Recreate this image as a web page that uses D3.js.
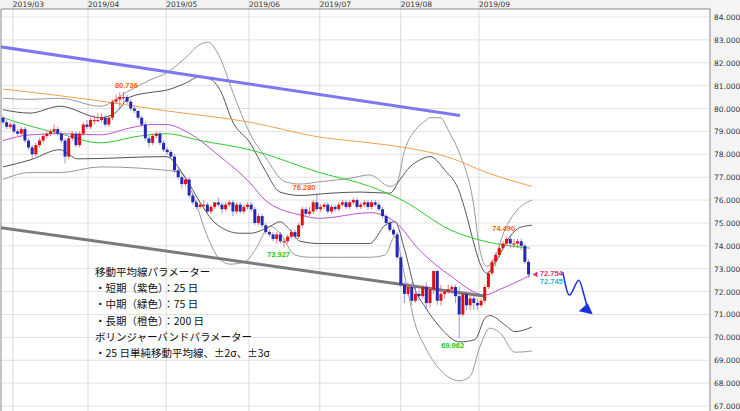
<!DOCTYPE html>
<html><head><meta charset="utf-8">
<script src="https://cdn.jsdelivr.net/npm/d3@7"></script>
<style>body{margin:0;background:#fff}svg{display:block;font-family:"DejaVu Sans",sans-serif}</style>
</head><body><svg id="c" width="740" height="411"></svg>
<script>
const monthLabels=["2019/03","2019/04","2019/05","2019/06","2019/07","2019/08","2019/09"];
const monthIdx=[2.7,23.3,44.7,67.4,86.8,109,130.4];
const priceTicks=[67,68,69,70,71,72,73,74,75,76,77,78,79,80,81,82,83,84];
const opens=[79.6,79.4,79.2,79.3,79.0,78.9,79.1,78.6,78.3,78.0,78.4,78.6,78.8,78.9,79.0,79.1,78.9,78.6,77.9,78.7,78.9,78.4,78.9,79.3,79.2,79.5,79.5,79.5,79.6,79.3,79.6,80.3,80.4,80.5,80.5,80.3,80.0,79.9,79.6,79.3,78.7,78.5,78.8,78.9,78.5,78.2,78.1,77.9,77.3,77.0,76.7,76.9,76.2,75.9,75.7,75.8,75.8,75.5,75.7,75.9,75.8,75.6,75.8,75.9,75.5,75.8,75.5,75.7,75.8,75.6,75.0,75.3,74.9,74.6,74.5,74.3,74.5,74.2,74.2,74.4,74.6,74.4,74.9,75.6,75.4,75.5,75.9,75.6,75.7,75.8,75.5,75.7,75.6,75.8,75.9,75.7,75.9,76.0,75.7,75.8,75.9,75.7,75.9,75.8,75.6,75.3,75.0,74.7,74.5,73.5,72.3,71.9,72.2,71.6,71.9,71.8,72.2,71.5,72.1,72.9,71.6,71.9,72.0,72.1,72.2,71.8,71.0,71.9,71.4,71.7,71.5,71.4,71.6,72.2,72.8,73.3,73.6,73.9,74.1,74.3,74.1,74.1,74.2,74.0,73.3];
const closes=[79.4,79.2,79.3,79.0,78.9,79.1,78.6,78.3,78.0,78.4,78.6,78.8,78.9,79.0,79.1,78.9,78.6,77.9,78.7,78.9,78.4,78.9,79.3,79.2,79.5,79.5,79.5,79.6,79.3,79.6,80.3,80.4,80.5,80.5,80.3,80.0,79.9,79.6,79.3,78.7,78.5,78.8,78.9,78.5,78.2,78.1,77.9,77.3,77.0,76.7,76.9,76.2,75.9,75.7,75.8,75.8,75.5,75.7,75.9,75.8,75.6,75.8,75.9,75.5,75.8,75.5,75.7,75.8,75.6,75.0,75.3,74.9,74.6,74.5,74.3,74.5,74.2,74.2,74.4,74.6,74.4,74.9,75.6,75.4,75.5,75.9,75.6,75.7,75.8,75.5,75.7,75.6,75.8,75.9,75.7,75.9,76.0,75.7,75.8,75.9,75.7,75.9,75.8,75.6,75.3,75.0,74.7,74.5,73.5,72.3,71.9,72.2,71.6,71.9,71.8,72.2,71.5,72.1,72.9,71.6,71.9,72.0,72.1,72.2,71.8,71.0,71.9,71.4,71.7,71.5,71.4,71.6,72.2,72.8,73.3,73.6,73.9,74.1,74.3,74.1,74.1,74.2,74.0,73.3,72.75];
const highs=[79.7,79.5,79.4,79.4,79.1,79.2,79.2,78.7,78.4,78.5,78.7,78.9,79.0,79.1,79.3,79.2,79.0,78.7,78.8,79.0,79.0,79.0,79.4,79.5,79.6,79.7,79.8,79.8,79.7,79.7,80.4,80.6,80.7,80.74,80.6,80.4,80.1,79.9,79.7,79.4,78.8,78.9,79.0,79.0,78.6,78.3,78.2,78.0,77.4,77.1,77.0,77.0,76.3,76.0,75.9,76.0,75.9,75.8,75.9,76.1,75.9,75.9,76.0,76.0,75.9,75.9,75.8,75.9,75.9,75.7,75.4,75.4,75.0,74.7,74.6,74.6,74.6,74.3,74.5,74.7,74.7,75.0,75.7,75.7,75.7,76.0,76.28,75.8,75.9,75.9,75.8,75.8,75.9,76.0,76.0,76.0,76.1,76.1,75.9,76.0,76.0,76.0,76.0,75.9,75.7,75.4,75.1,74.8,74.6,73.6,72.4,72.4,72.4,72.2,72.1,72.3,72.4,72.2,72.9,72.95,72.3,72.1,72.3,72.3,72.3,72.2,71.9,72.0,72.0,71.8,71.7,71.7,72.3,72.9,73.4,73.7,74.0,74.2,74.4,74.49,74.3,74.3,74.3,74.1,73.4];
const lows=[79.3,79.1,79.1,78.9,78.8,78.8,78.5,78.2,77.8,77.9,78.3,78.5,78.7,78.8,78.9,78.8,78.5,77.6,77.8,78.6,78.3,78.3,78.8,79.1,79.1,79.3,79.4,79.4,79.2,79.2,79.5,80.2,80.0,80.3,80.2,79.9,79.8,79.5,79.2,78.6,78.3,78.4,78.7,78.4,78.1,78.0,77.8,77.2,76.9,76.5,76.6,76.1,75.8,75.6,75.6,75.6,75.4,75.4,75.6,75.7,75.4,75.5,75.7,75.3,75.4,75.4,75.4,75.6,75.5,74.9,74.9,74.8,74.5,74.4,74.2,74.1,74.1,73.93,74.1,74.3,74.3,74.3,74.8,75.3,75.3,75.4,75.5,75.5,75.6,75.4,75.4,75.5,75.5,75.7,75.6,75.6,75.8,75.6,75.6,75.7,75.6,75.6,75.7,75.5,75.2,74.9,74.6,74.4,73.4,72.2,71.5,71.8,71.4,71.5,71.6,71.7,71.2,71.3,71.9,71.4,71.4,71.7,71.9,71.9,71.5,69.96,70.9,71.2,71.2,71.2,71.2,71.3,71.5,72.1,72.7,73.1,73.5,73.8,74.0,73.9,73.9,73.9,73.8,73.2,72.6];
const ma200=[[0,80.85],[23.5,80.4],[44.7,79.9],[67.7,79.4],[86.8,78.75],[100.5,78.5],[109.9,78.3],[122.5,77.85],[132.6,77.2],[144.9,76.6]];
const ma75=[[0,79.6],[8.2,79.2],[15.6,78.9],[26.6,78.5],[37.5,78.8],[44.7,78.9],[54,78.6],[67.7,78.2],[86.8,77.2],[100.5,76.6],[109.9,75.95],[122.5,74.7],[130.7,74.25],[144.4,73.9]];
const ma25=[[0,78.6],[7.4,78.85],[15.6,78.9],[26.6,78.85],[34.8,79.15],[40.3,79.3],[44.7,79.3],[51.2,78.9],[59.5,77.9],[67.7,76.75],[71.8,76.0],[81.4,75.35],[86.8,75.2],[100.5,75.45],[107.4,75.05],[114.2,73.8],[122.5,72.7],[132.1,71.85],[136.2,72.1],[144.4,72.7]];
const bbUp2=[[0,79.95],[7.4,79.8],[15.6,80.1],[26.6,79.6],[30.7,79.8],[34.8,80.5],[40.3,80.7],[44.7,80.8],[49.9,81.1],[54,81.4],[56.7,81.3],[59.5,80.8],[63,79.4],[67.7,78.5],[71.8,77.3],[75.9,76.35],[81.4,76.2],[89.6,76.3],[97.8,76.35],[106,76.3],[108.8,76.9],[111.5,77.45],[114.2,77.75],[117,77.9],[121.1,77.3],[125.2,76.3],[126,75.9],[132.6,72.8],[134.8,73.25],[138.9,74.4],[141.6,74.8],[144.9,74.9]];
const bbLo2=[[0,77.45],[7.4,77.75],[15.6,78.2],[20.5,77.8],[44.7,77.9],[49.9,77.0],[54,75.9],[58.1,75.0],[64.9,74.55],[67.7,74.55],[73.2,74.85],[75.9,75.05],[78.6,74.7],[81.4,74.2],[86.8,74.1],[100.5,74.1],[104.7,74.9],[107.4,75.05],[110.1,73.8],[112.9,72.1],[115.6,71.35],[119.7,70.45],[125.2,69.8],[129.3,69.9],[132.1,70.85],[133.4,70.95],[137.5,70.55],[140.3,70.25],[144.9,70.45]];
const bbUp3=[[0,80.45],[7.4,80.4],[15.6,80.45],[26.6,80.1],[34.8,80.8],[40.3,81.25],[44.7,81.55],[49.9,82.2],[54,82.8],[56.2,82.9],[59.5,82.2],[63,80.7],[67.7,78.9],[71.8,77.9],[77.3,76.8],[81.4,76.7],[86.8,76.8],[95,76.95],[100.5,77.1],[106,76.6],[107.9,76.75],[110.1,78.2],[112.9,79.05],[115.6,79.45],[117,79.6],[119.7,79.6],[122.5,78.9],[125.2,78.0],[128.8,75.95],[130.7,73.8],[132.6,73.1],[134.8,73.5],[137.5,74.7],[140.3,75.45],[144.9,76.0]];
const bbLo3=[[0,76.9],[7.4,77.2],[15.6,77.2],[26.6,77.45],[44.7,77.3],[48.5,77.2],[52.6,76.0],[55.3,74.7],[59.5,73.4],[62.2,73.2],[66.3,73.3],[69,73.8],[73.2,74.85],[75.9,74.55],[80,73.6],[84.1,73.5],[92.3,73.5],[100.5,73.5],[104.7,73.6],[107.4,74.4],[110.1,72.65],[112.9,70.6],[115.6,69.6],[119.7,68.6],[125.2,68.1],[128,68.3],[130.7,69.6],[133.4,70.4],[136.2,70.2],[140.3,69.35],[144.9,69.4]];
const trendBlue=[[-0.8,82.7],[125.2,79.7]];
const trendGray=[[-0.8,74.8],[132.1,71.8]];
const forecast=[[153.4,72.85],[155.2,71.85],[157.8,72.5],[159.2,71.85],[160.5,71.05]];
const annotations=[{i:33.8,p:80.736,t:"80.736",c:"#ff6600"},{i:82.5,p:76.28,t:"76.280",c:"#ff6600"},{i:75.5,p:73.927,t:"73.927",c:"#11cc11"},{i:137.2,p:74.49,t:"74.490",c:"#ff6600"},{i:123.2,p:69.962,t:"69.962",c:"#11cc11"}];
const notes=["移動平均線パラメーター","・短期（紫色）：25 日","・中期（緑色）：75 日","・長期（橙色）：200 日","ボリンジャーバンドパラメーター","・25 日単純移動平均線、±2σ、±3σ"];

const svg=d3.select("#c");
const x=d3.scaleLinear().domain([0,194]).range([3,711]);
const y=d3.scaleLinear().domain([67,84]).range([406,17]);
const L=1,R=710,T=9,B=411;
svg.append("rect").attr("x",0).attr("y",0).attr("width",740).attr("height",T).attr("fill","#f2f2f2");
svg.append("rect").attr("x",R).attr("y",0).attr("width",30).attr("height",411).attr("fill","#f4f4f4");
const g=svg.append("g");
g.selectAll(".hg").data(priceTicks).join("line").attr("x1",L).attr("x2",R).attr("y1",d=>y(d)).attr("y2",d=>y(d)).attr("stroke","#e2e2e2");
g.selectAll(".vg").data(monthIdx).join("line").attr("x1",d=>x(d)).attr("x2",d=>x(d)).attr("y1",0).attr("y2",B).attr("stroke","#dadada");
svg.selectAll(".ml").data(monthLabels).join("text").attr("x",(d,i)=>x(monthIdx[i])).attr("y",7).attr("font-size",7.5).attr("fill","#333").text(d=>d);
svg.selectAll(".pl").data(priceTicks).join("text").attr("x",714).attr("y",d=>y(d)+3).attr("font-size",7.5).attr("fill","#333").text(d=>d.toFixed(3));
svg.append("line").attr("x1",R).attr("x2",R).attr("y1",T).attr("y2",B).attr("stroke","#888");
svg.append("line").attr("x1",L).attr("x2",L).attr("y1",T).attr("y2",B).attr("stroke","#888");
svg.append("line").attr("x1",L).attr("x2",R).attr("y1",T).attr("y2",T).attr("stroke","#888");

svg.append("clipPath").attr("id","pc").append("rect").attr("x",L).attr("y",T).attr("width",R-L).attr("height",B-T);
const pg=svg.append("g").attr("clip-path","url(#pc)");
const line=d3.line().x(d=>x(d[0])).y(d=>y(d[1])).curve(d3.curveMonotoneX);
const straight=d3.line().x(d=>x(d[0])).y(d=>y(d[1]));
[[bbUp3,"#999",1],[bbLo3,"#999",1],[bbUp2,"#555",1],[bbLo2,"#555",1],[ma200,"#f5a04a",1],[ma75,"#2fcc2f",1],[ma25,"#c050d8",1]].forEach(([d,c,w])=>pg.append("path").attr("d",line(d)).attr("fill","none").attr("stroke",c).attr("stroke-width",w));
pg.append("path").attr("d",straight(trendBlue)).attr("stroke","#7b78f2").attr("stroke-width",3).attr("fill","none");
pg.append("path").attr("d",straight(trendGray)).attr("stroke","#7a7a7a").attr("stroke-width",3).attr("fill","none");

const cw=3;
closes.forEach((c,i)=>{
  const o=opens[i],up=c>=o,col=up?"#e01010":"#2626b8";
  pg.append("line").attr("x1",x(i)).attr("x2",x(i)).attr("y1",y(highs[i])).attr("y2",y(lows[i])).attr("stroke",up?"#e06060":"#8080d0").attr("stroke-width",0.8);
  const y0=y(Math.max(o,c)),y1=y(Math.min(o,c));
  pg.append("rect").attr("x",x(i)-cw/2).attr("y",y0).attr("width",cw).attr("height",Math.max(1.2,y1-y0)).attr("fill",col);
});
const lf="'Liberation Sans',Arial,sans-serif";
annotations.forEach(a=>{
  const below=a.c==="#11cc11";
  pg.append("text").attr("x",x(a.i)).attr("y",below?y(a.p)+10:y(a.p)-4).attr("text-anchor","middle").attr("font-size",7.5).attr("font-family",lf).attr("font-weight","bold").attr("fill",a.c).text(a.t);
});
pg.append("path").attr("d",d3.symbol(d3.symbolTriangle,14)()).attr("transform",`translate(${x(146)},${y(72.75)}) rotate(-90)`).attr("fill","#e0307a");
pg.append("text").attr("x",x(147.1)).attr("y",y(72.754)+2).attr("font-size",7.5).attr("font-family",lf).attr("font-weight","bold").attr("fill","#e0306a").text("72.754");
pg.append("text").attr("x",x(147.1)).attr("y",y(72.754)+10).attr("font-size",7.5).attr("font-family",lf).attr("font-weight","bold").attr("fill","#18b8e0").text("72.745");
pg.append("path").attr("d",line(forecast)).attr("fill","none").attr("stroke","#1a2fe0").attr("stroke-width",1.5);
const fe=forecast[forecast.length-1];
pg.append("path").attr("d",`M${x(fe[0])-10},${y(fe[1])-2} L${x(fe[0])+4},${y(fe[1])+1} L${x(fe[0])-1},${y(fe[1])-10}Z`).attr("fill","#1a2fe0");
svg.selectAll(".nt").data(notes).join("text").attr("x",95).attr("y",(d,i)=>276+i*16.2).attr("font-size",10.5).attr("fill","#111").attr("font-family","'Noto Sans CJK JP',sans-serif").text(d=>d);
</script></body></html>
